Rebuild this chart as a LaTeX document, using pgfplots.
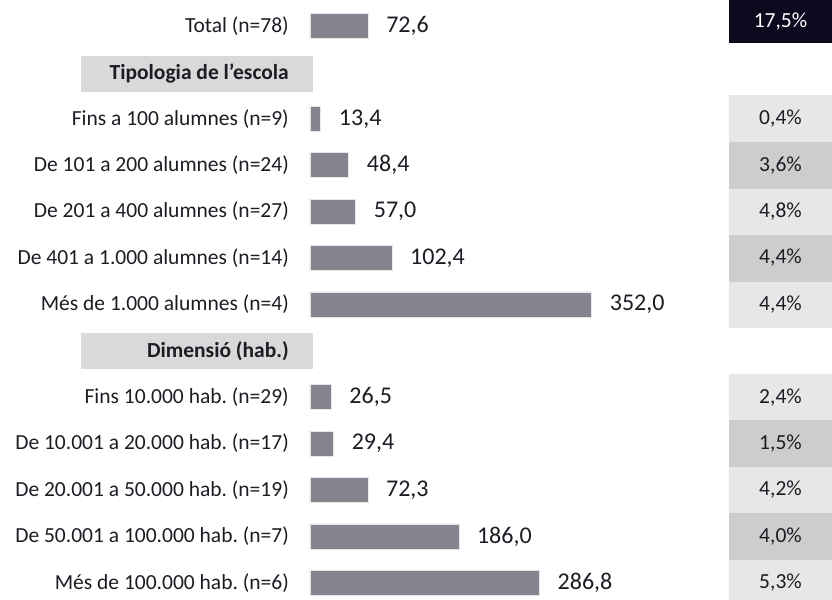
\documentclass[border=0pt]{standalone}
\usepackage{fontspec}
\setmainfont{Carlito}
\usepackage{pgfplots}
\pgfplotsset{compat=1.18}
\frenchspacing
\definecolor{barc}{HTML}{85848F}
\definecolor{txt}{HTML}{1C1C24}
\definecolor{hdr}{HTML}{D9D9D9}
\definecolor{boxl}{HTML}{E7E7E7}
\definecolor{boxd}{HTML}{CDCDCD}
\definecolor{boxt}{HTML}{0C0A1F}
\newcommand{\lbl}{\fontsize{21.5bp}{26bp}\selectfont}
\newcommand{\val}{\fontsize{24bp}{28bp}\selectfont}
\begin{document}
\begin{tikzpicture}
\begin{axis}[
    at={(0,0)}, anchor=south west,
    scale only axis,
    width=522bp, height=600bp,
    xmin=0, xmax=652.5,
    ymin=-0.5603, ymax=12.3707,
    y dir=reverse,
    clip=false,
    axis line style={draw=none},
    xtick=\empty,
    ytick={0,2,3,4,5,6,8,9,10,11,12},
    yticklabels={{Total (n=78)},
        {Fins a 100 alumnes (n=9)},{De 101 a 200 alumnes (n=24)},
        {De 201 a 400 alumnes (n=27)},{De 401 a 1.000 alumnes (n=14)},
        {Més de 1.000 alumnes (n=4)},
        {Fins 10.000 hab. (n=29)},{De 10.001 a 20.000 hab. (n=17)},
        {De 20.001 a 50.000 hab. (n=19)},{De 50.001 a 100.000 hab. (n=7)},
        {Més de 100.000 hab. (n=6)}},
    major tick length=0pt,
    yticklabel style={anchor=east, inner sep=0pt, xshift=-21bp, font=\lbl, text=txt},
    /pgf/number format/.cd, fixed, fixed zerofill, precision=1, use comma, assume math mode=true,
]
% bars: mean values
\addplot[xbar, bar width=25bp, fill=barc, draw=white!80!barc, line width=0.5bp,
    nodes near coords,
    nodes near coords style={anchor=west, inner sep=0pt, xshift=18bp, font=\val, text=txt}]
  coordinates {(72.6,0) (13.4,2) (48.4,3) (57.0,4) (102.4,5) (352.0,6)
               (26.5,8) (29.4,9) (72.3,10) (186.0,11) (286.8,12)};
% percentage column (total)
\addplot[draw=none, mark=none, point meta=explicit,
    nodes near coords={\pgfmathprintnumber{\pgfplotspointmeta}\%},
    nodes near coords style={anchor=center, fill=boxt, text=white, inner sep=0pt,
        minimum width=103bp, minimum height=43bp, yshift=4.5bp, font=\lbl}]
  coordinates {(588.125,0) [17.5]};
% percentage column (light rows)
\addplot[draw=none, mark=none, point meta=explicit,
    nodes near coords={\pgfmathprintnumber{\pgfplotspointmeta}\%},
    nodes near coords style={anchor=center, fill=boxl, text=txt, inner sep=0pt,
        minimum width=103bp, minimum height=47bp, font=\lbl}]
  coordinates {(588.125,2) [0.4] (588.125,4) [4.8] (588.125,6) [4.4]
               (588.125,8) [2.4] (588.125,10) [4.2] (588.125,12) [5.3]};
% percentage column (dark rows)
\addplot[draw=none, mark=none, point meta=explicit,
    nodes near coords={\pgfmathprintnumber{\pgfplotspointmeta}\%},
    nodes near coords style={anchor=center, fill=boxd, text=txt, inner sep=0pt,
        minimum width=103bp, minimum height=47bp, font=\lbl}]
  coordinates {(588.125,3) [3.6] (588.125,5) [4.4]
               (588.125,9) [1.5] (588.125,11) [4.0]};
% section headers
\fill[hdr] (axis cs:-286.25,0.647) rectangle (axis cs:3.75,1.422);
\node[anchor=east, inner sep=0pt, font=\lbl\bfseries, text=txt] at (axis cs:-26.25,1.034) {Tipologia de l’escola};
\fill[hdr] (axis cs:-286.25,6.616) rectangle (axis cs:3.75,7.392);
\node[anchor=east, inner sep=0pt, font=\lbl\bfseries, text=txt] at (axis cs:-26.25,7.004) {Dimensió (hab.)};
\end{axis}
\pgfresetboundingbox
\path (-310bp,0) rectangle (522bp,600bp);
\end{tikzpicture}
\end{document}
